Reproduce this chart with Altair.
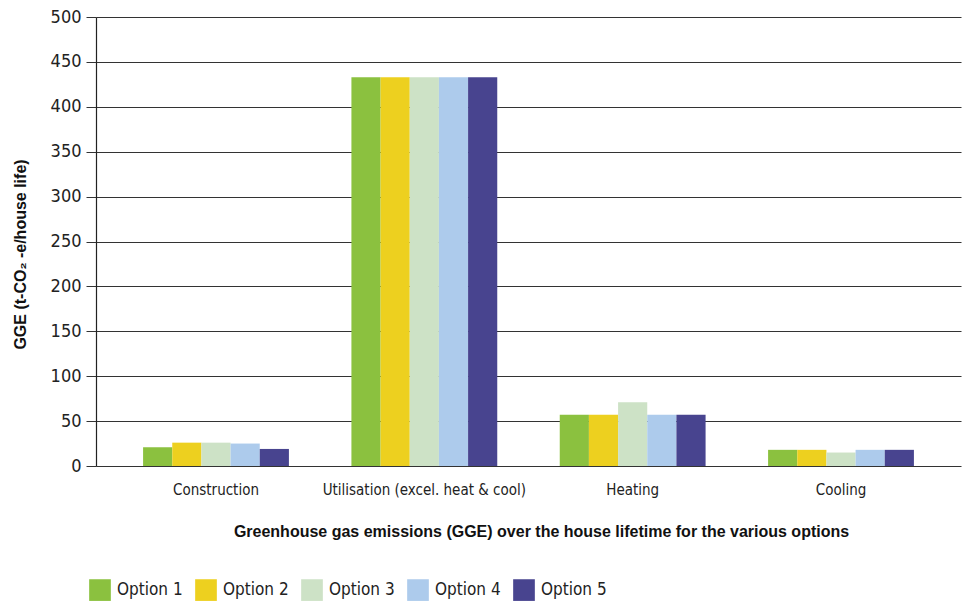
import altair as alt
import pandas as pd

categories = ["Construction", "Utilisation (excel. heat & cool)", "Heating", "Cooling"]
options = ["Option 1", "Option 2", "Option 3", "Option 4", "Option 5"]
option1 = [21, 433, 57, 18]
option2 = [26, 433, 57, 18]
option3 = [26, 433, 71, 15]
option4 = [25, 433, 57, 18]
option5 = [19, 433, 57, 18]
colors = ["#8BC13F", "#EDD01F", "#CDE2C6", "#ADCBEC", "#48448F"]

rows = []
for opt, vals in zip(options, [option1, option2, option3, option4, option5]):
    for c, v in zip(categories, vals):
        rows.append({"category": c, "option": opt, "value": v})
df = pd.DataFrame(rows)

font = "DejaVu Sans Condensed, Liberation Sans Narrow, sans-serif"
tfont = "Liberation Sans, Arial, sans-serif"

chart = alt.Chart(df).mark_bar().encode(
    x=alt.X("category:N", sort=categories,
            scale=alt.Scale(paddingInner=0.3, paddingOuter=0.226),
            axis=alt.Axis(title="Greenhouse gas emissions (GGE) over the house lifetime for the various options",
                          titleFont=tfont, titleFontWeight="bold",
                          titleFontSize=16, titleColor="#111", titlePadding=26,
                          titleX=445, titleAnchor="start", titleAlign="center",
                          labelAngle=0, labelFont=font, labelFontSize=15, labelColor="#222",
                          labelPadding=16, labelLimit=400, ticks=False, domain=False)),
    xOffset=alt.XOffset("option:N", sort=options, scale=alt.Scale(paddingInner=0, paddingOuter=0)),
    y=alt.Y("value:Q", scale=alt.Scale(domain=[0, 500], nice=False),
            axis=alt.Axis(values=list(range(0, 501, 50)),
                          title="GGE (t-CO₂ -e/house life)",
                          titleFont=tfont, titleFontWeight="bold",
                          titleFontSize=16, titleColor="#111", titlePadding=22,
                          titleY=237, titleAnchor="start", titleAlign="center",
                          labelFont=font, labelFontSize=18, labelColor="#222", labelPadding=5,
                          tickSize=10, tickColor="#333", domainColor="#222", domainWidth=1.2,
                          gridColor="#333", gridWidth=1.2)),
    color=alt.Color("option:N", sort=options,
                    scale=alt.Scale(domain=options, range=colors),
                    legend=alt.Legend(title=None, orient="none", direction="horizontal",
                                      legendX=-7, legendY=562, symbolType="square",
                                      symbolSize=470, symbolStrokeWidth=0, symbolOpacity=1,
                                      labelFont=font, labelFontSize=17, labelColor="#222",
                                      labelOffset=6, columnPadding=12, labelBaseline="middle",
                                      labelLimit=200)),
).properties(
    width=865, height=449,
    autosize=alt.AutoSizeParams(type="none"),
    padding={"left": 96, "top": 17, "right": 6, "bottom": 139},
).configure_view(stroke=None)

chart.save("out.html", embed_options={"renderer": "svg", "actions": False})
